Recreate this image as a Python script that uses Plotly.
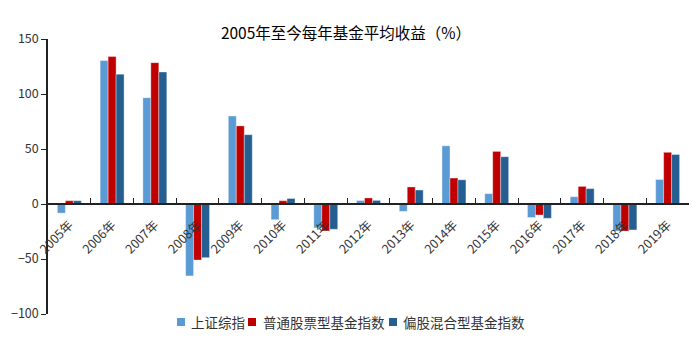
import plotly.graph_objects as go

years = ["2005年", "2006年", "2007年", "2008年", "2009年", "2010年", "2011年", "2012年",
         "2013年", "2014年", "2015年", "2016年", "2017年", "2018年", "2019年"]
sse = [-8.3, 130.4, 96.7, -65.4, 80.0, -14.3, -21.7, 3.2, -6.7, 52.9, 9.4, -12.3, 6.6, -24.6, 22.3]
stock_fund = [3.0, 134.0, 128.5, -50.9, 71.0, 3.0, -24.5, 5.5, 15.5, 23.6, 47.8, -10.0, 16.0, -24.6, 47.0]
mixed_fund = [3.0, 118.0, 120.0, -48.8, 63.0, 5.0, -23.0, 3.3, 12.7, 22.0, 43.0, -13.0, 14.0, -23.6, 45.0]
series_names = ["上证综指", "普通股票型基金指数", "偏股混合型基金指数"]
colors = ["#5B9BD5", "#C00000", "#255E91"]
y_ticks = [-100, -50, 0, 50, 100, 150]
y_tick_text = ["\u2212100", "\u221250", "0", "50", "100", "150"]

cjk_family = "Noto Sans CJK SC, DejaVu Sans, sans-serif"

W, H = 699, 340
ML, MR, MT, MB = 48, 10, 39, 26
PW = W - ML - MR
PH = H - MT - MB

fig = go.Figure()
for name, vals, c in zip(series_names, [sse, stock_fund, mixed_fund], colors):
    fig.add_trace(go.Bar(
        x=years, y=vals, name=name,
        marker=dict(color=c, line=dict(color="rgba(255,255,255,0.6)", width=0.6)),
    ))

# custom compact legend
legend_sq_px = [177, 248, 389]
legend_txt_px = [189, 261, 401]
sq_size = 8
legend_y_px = 322
for name, c, sx, tx in zip(series_names, colors, legend_sq_px, legend_txt_px):
    fig.add_shape(type="rect", xref="paper", yref="paper",
                  x0=(sx - ML) / PW, x1=(sx + sq_size - ML) / PW,
                  y0=(H - MB - (legend_y_px + sq_size / 2)) / PH,
                  y1=(H - MB - (legend_y_px - sq_size / 2)) / PH,
                  fillcolor=c, line=dict(width=0))
    fig.add_annotation(text=name, xref="paper", yref="paper",
                       x=(tx - ML) / PW, y=(H - MB - legend_y_px) / PH,
                       xanchor="left", yanchor="middle", showarrow=False,
                       font=dict(family=cjk_family, size=13.5, color="#333333"))

fig.update_layout(
    width=W, height=H,
    margin=dict(l=ML, r=MR, t=MT, b=MB, autoexpand=False),
    paper_bgcolor="white", plot_bgcolor="white",
    barmode="group", bargap=0.44, bargroupgap=0,
    font=dict(family=cjk_family, color="#333333", size=12),
    title=dict(text="2005年至今每年基金平均收益（%）", x=346 / W, xanchor="center",
               y=1 - 34 / H, yanchor="middle", yref="container",
               font=dict(size=15.5, color="#000000", family=cjk_family)),
    showlegend=False,
    xaxis=dict(
        anchor="free", position=0.4,
        showline=True, linecolor="#222222", linewidth=1.5,
        ticks="inside", ticklen=5, tickcolor="#222222", tickwidth=1.2,
        tickson="boundaries", tickangle=-45, ticklabelstandoff=8,
        tickfont=dict(size=12.5, color="#333333", family=cjk_family),
        showgrid=False, zeroline=False,
    ),
    yaxis=dict(
        range=[-100, 150], tickvals=y_ticks, ticktext=y_tick_text,
        showline=True, linecolor="#222222", linewidth=1.5,
        ticks="outside", ticklen=5, tickcolor="#222222", tickwidth=1.2,
        tickfont=dict(size=12.5, color="#333333", family=cjk_family),
        showgrid=False, zeroline=False,
    ),
)

fig.write_html("out.html")
